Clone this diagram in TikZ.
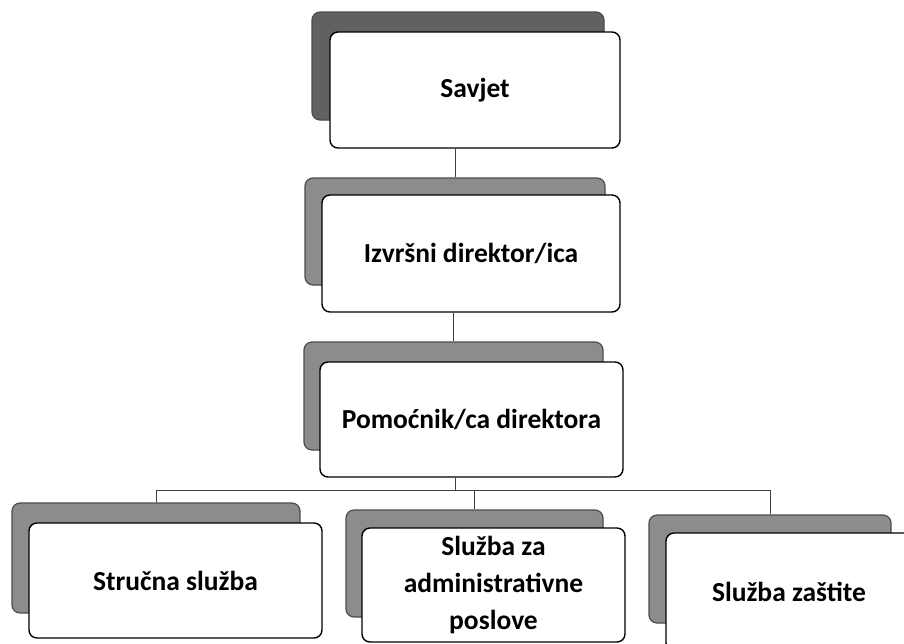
\documentclass[tikz,border=0pt]{standalone}
\usepackage{fontspec}
\setmainfont{Carlito}
\begin{document}
\begin{tikzpicture}[x=1pt,y=-1pt,
  orgbox/.style={draw=black, line width=1.4pt, fill=white, rounded corners=8pt,
    inner sep=0pt, align=center, text=black,
    font=\fontsize{27.5}{37}\selectfont\bfseries},
  shadowbox/.style={draw=black!70, line width=1.2pt, rounded corners=8pt, inner sep=0pt},
  darkshadow/.style={shadowbox, fill=black!62},
  lightshadow/.style={shadowbox, fill=black!45},
  conn/.style={draw=black!75, line width=0.9pt}]
\useasboundingbox (0,0) rectangle (904,643);
\clip (0,0) rectangle (904,643);
\fill[white] (0,0) rectangle (904,643);

% shadows
\node[darkshadow, minimum width=292pt, minimum height=108pt] (sh1) at (458,66) {};
\node[lightshadow, minimum width=300pt, minimum height=107pt] (sh2) at (455,231.5) {};
\node[lightshadow, minimum width=299pt, minimum height=108pt] (sh3) at (453.5,396) {};
\node[lightshadow, minimum width=288pt, minimum height=110pt] (sh4) at (156,558) {};
\node[lightshadow, minimum width=257pt, minimum height=107pt] (sh5) at (474.5,563.5) {};
\node[lightshadow, minimum width=242pt, minimum height=108pt] (sh6) at (770,569) {};

% boxes
\node[orgbox, minimum width=290pt, minimum height=116pt] (savjet) at (475,90) {Savjet};
\node[orgbox, minimum width=298pt, minimum height=117pt] (izv) at (471,253.5) {Izvršni direktor/ica};
\node[orgbox, minimum width=303pt, minimum height=115pt] (pom) at (471.5,419.5) {Pomoćnik/ca direktora};
\node[orgbox, minimum width=293pt, minimum height=115pt] (s1) at (175.5,580.5) {Stručna služba};
\node[orgbox, minimum width=263pt, minimum height=114pt] (s2) at (493.5,585) {Služba za\\administrativne\\poslove};
\node[orgbox, minimum width=246pt, minimum height=118pt] (s3) at (789,592) {Služba zaštite};

% connectors
\coordinate (bus) at (455,490);
\draw[conn] (savjet.south -| sh2.north) -- (sh2.north);
\draw[conn] (izv.south -| sh3.north) -- (sh3.north);
\draw[conn] (pom.south -| bus) -- (bus);
\draw[conn] (sh4.north |- bus) -- (sh6.north |- bus);
\draw[conn] (sh4.north |- bus) -- (sh4.north);
\draw[conn] (sh5.north |- bus) -- (sh5.north);
\draw[conn] (sh6.north |- bus) -- (sh6.north);
\end{tikzpicture}
\end{document}
